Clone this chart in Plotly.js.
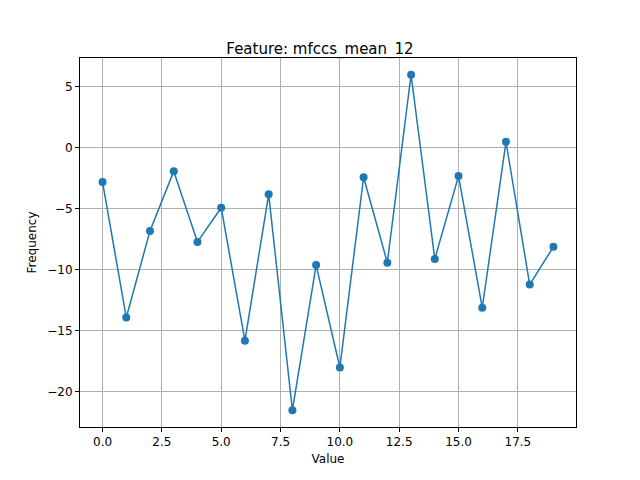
<!DOCTYPE html>
<html>
<head>
<script src="https://cdn.plot.ly/plotly-3.0.1.min.js"></script>
<style>body{margin:0}</style>
</head>
<body>
<div id="chart" style="width:640px;height:480px"></div>
<script>
"use strict";

const xVals = [0, 1, 2, 3, 4, 5, 6, 7, 8, 9, 10, 11, 12, 13, 14, 15, 16, 17, 18, 19];
const yVals = [-2.8, -13.9, -6.8, -1.9, -7.7, -4.9, -15.8, -3.8, -21.5, -9.6,
               -18.0, -2.4, -9.4, 6.0, -9.1, -2.3, -13.1, 0.5, -11.2, -8.1];
const xTicks = [0, 2.5, 5, 7.5, 10, 12.5, 15, 17.5];
const xTickText = ["0.0", "2.5", "5.0", "7.5", "10.0", "12.5", "15.0", "17.5"];
const yTicks = [-20, -15, -10, -5, 0, 5];
const yTickText = ["\u221220", "\u221215", "\u221210", "\u22125", "0", "5"];

const axisCommon = {
  showline: true, mirror: true, linecolor: "#000", linewidth: 1,
  ticks: "outside", ticklen: 4, tickcolor: "#000",
  showgrid: true, gridcolor: "#b0b0b0", gridwidth: 1, zeroline: false,
  tickfont: { size: 12, color: "#000" },
};

const data = [{
  x: xVals, y: yVals, mode: "lines+markers",
  line: { color: "#1f77b4", width: 1.5 },
  marker: { color: "#1f77b4", size: 8 },
}];

const layout = {
  width: 640, height: 480,
  font: { family: "DejaVu Sans", color: "#000" },
  paper_bgcolor: "#fff", plot_bgcolor: "#fff",
  margin: { l: 80, r: 64, t: 58, b: 53 },
  showlegend: false,
  title: { text: "Feature: mfccs_mean_12", font: { size: 15 }, x: 0.5, xanchor: "center", y: 0.91 },
  xaxis: Object.assign({}, axisCommon, {
    range: [-0.95, 19.95], tickvals: xTicks, ticktext: xTickText,
    title: { text: "Value", font: { size: 12 }, standoff: 6 },
  }),
  yaxis: Object.assign({}, axisCommon, {
    range: [-22.875, 7.375], tickvals: yTicks, ticktext: yTickText,
    title: { text: "Frequency", font: { size: 12 }, standoff: 8 },
  }),
};

Plotly.newPlot("chart", data, layout, { displayModeBar: false });
</script>
</body>
</html>
